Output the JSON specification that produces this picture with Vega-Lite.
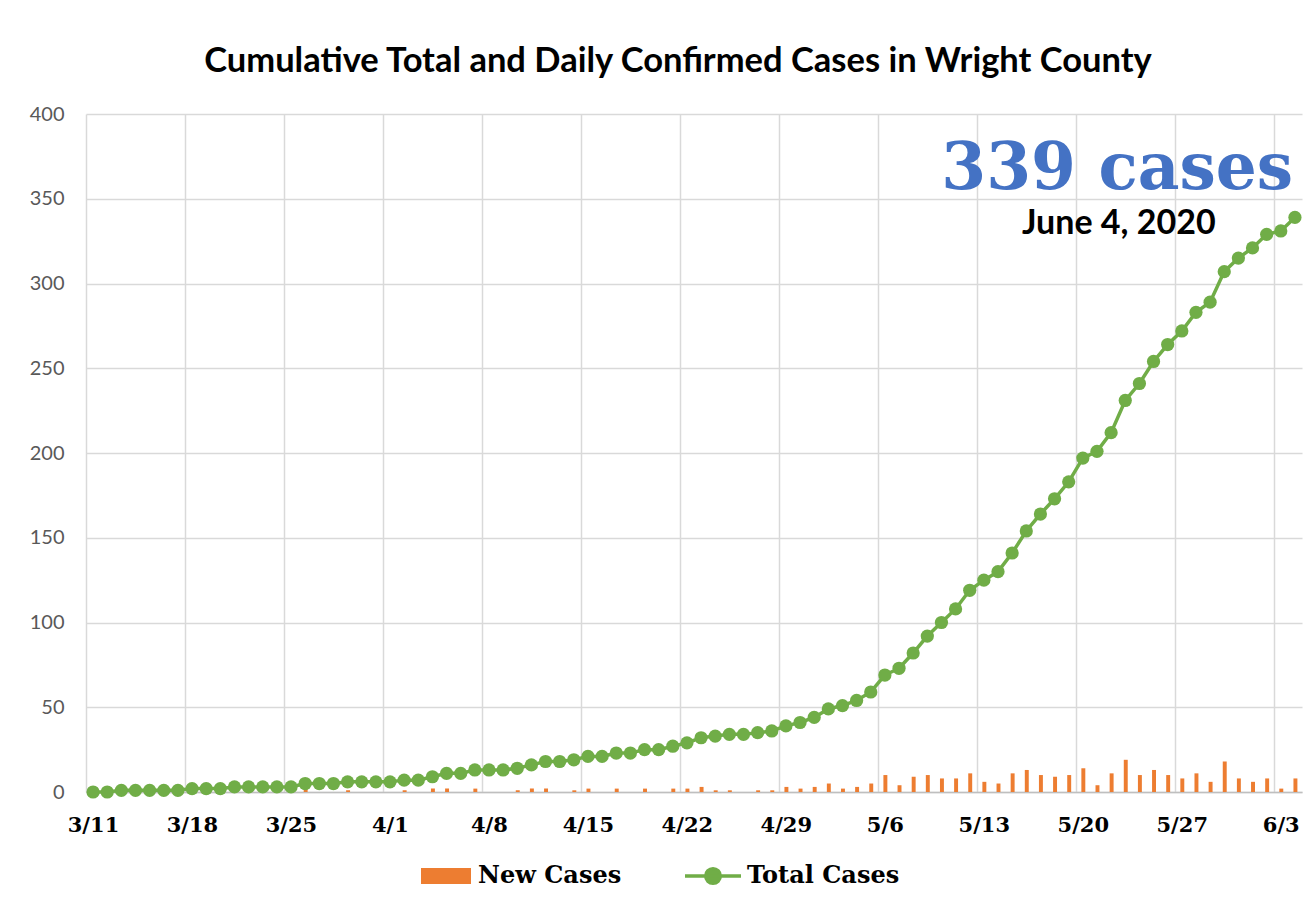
{
  "$schema": "https://vega.github.io/schema/vega-lite/v6.json",
  "width": 1216,
  "height": 678,
  "autosize": "none",
  "padding": {"left": 86, "top": 114, "right": 6, "bottom": 106},
  "background": "white",
  "title": {
    "text": "Cumulative Total and Daily Confirmed Cases in Wright County",
    "font": "Lato", "fontSize": 34.5, "fontWeight": "bold", "color": "black",
    "anchor": "middle", "frame": "group", "dx": -16, "offset": 25
  },
  "config": {
    "view": {"stroke": null}
  },
  "data": {"values": [
    {"date": "2020-03-11", "total": 0, "new": 0},
    {"date": "2020-03-12", "total": 0, "new": 0},
    {"date": "2020-03-13", "total": 1, "new": 1},
    {"date": "2020-03-14", "total": 1, "new": 0},
    {"date": "2020-03-15", "total": 1, "new": 0},
    {"date": "2020-03-16", "total": 1, "new": 0},
    {"date": "2020-03-17", "total": 1, "new": 0},
    {"date": "2020-03-18", "total": 2, "new": 1},
    {"date": "2020-03-19", "total": 2, "new": 0},
    {"date": "2020-03-20", "total": 2, "new": 0},
    {"date": "2020-03-21", "total": 3, "new": 1},
    {"date": "2020-03-22", "total": 3, "new": 0},
    {"date": "2020-03-23", "total": 3, "new": 0},
    {"date": "2020-03-24", "total": 3, "new": 0},
    {"date": "2020-03-25", "total": 3, "new": 0},
    {"date": "2020-03-26", "total": 5, "new": 2},
    {"date": "2020-03-27", "total": 5, "new": 0},
    {"date": "2020-03-28", "total": 5, "new": 0},
    {"date": "2020-03-29", "total": 6, "new": 1},
    {"date": "2020-03-30", "total": 6, "new": 0},
    {"date": "2020-03-31", "total": 6, "new": 0},
    {"date": "2020-04-01", "total": 6, "new": 0},
    {"date": "2020-04-02", "total": 7, "new": 1},
    {"date": "2020-04-03", "total": 7, "new": 0},
    {"date": "2020-04-04", "total": 9, "new": 2},
    {"date": "2020-04-05", "total": 11, "new": 2},
    {"date": "2020-04-06", "total": 11, "new": 0},
    {"date": "2020-04-07", "total": 13, "new": 2},
    {"date": "2020-04-08", "total": 13, "new": 0},
    {"date": "2020-04-09", "total": 13, "new": 0},
    {"date": "2020-04-10", "total": 14, "new": 1},
    {"date": "2020-04-11", "total": 16, "new": 2},
    {"date": "2020-04-12", "total": 18, "new": 2},
    {"date": "2020-04-13", "total": 18, "new": 0},
    {"date": "2020-04-14", "total": 19, "new": 1},
    {"date": "2020-04-15", "total": 21, "new": 2},
    {"date": "2020-04-16", "total": 21, "new": 0},
    {"date": "2020-04-17", "total": 23, "new": 2},
    {"date": "2020-04-18", "total": 23, "new": 0},
    {"date": "2020-04-19", "total": 25, "new": 2},
    {"date": "2020-04-20", "total": 25, "new": 0},
    {"date": "2020-04-21", "total": 27, "new": 2},
    {"date": "2020-04-22", "total": 29, "new": 2},
    {"date": "2020-04-23", "total": 32, "new": 3},
    {"date": "2020-04-24", "total": 33, "new": 1},
    {"date": "2020-04-25", "total": 34, "new": 1},
    {"date": "2020-04-26", "total": 34, "new": 0},
    {"date": "2020-04-27", "total": 35, "new": 1},
    {"date": "2020-04-28", "total": 36, "new": 1},
    {"date": "2020-04-29", "total": 39, "new": 3},
    {"date": "2020-04-30", "total": 41, "new": 2},
    {"date": "2020-05-01", "total": 44, "new": 3},
    {"date": "2020-05-02", "total": 49, "new": 5},
    {"date": "2020-05-03", "total": 51, "new": 2},
    {"date": "2020-05-04", "total": 54, "new": 3},
    {"date": "2020-05-05", "total": 59, "new": 5},
    {"date": "2020-05-06", "total": 69, "new": 10},
    {"date": "2020-05-07", "total": 73, "new": 4},
    {"date": "2020-05-08", "total": 82, "new": 9},
    {"date": "2020-05-09", "total": 92, "new": 10},
    {"date": "2020-05-10", "total": 100, "new": 8},
    {"date": "2020-05-11", "total": 108, "new": 8},
    {"date": "2020-05-12", "total": 119, "new": 11},
    {"date": "2020-05-13", "total": 125, "new": 6},
    {"date": "2020-05-14", "total": 130, "new": 5},
    {"date": "2020-05-15", "total": 141, "new": 11},
    {"date": "2020-05-16", "total": 154, "new": 13},
    {"date": "2020-05-17", "total": 164, "new": 10},
    {"date": "2020-05-18", "total": 173, "new": 9},
    {"date": "2020-05-19", "total": 183, "new": 10},
    {"date": "2020-05-20", "total": 197, "new": 14},
    {"date": "2020-05-21", "total": 201, "new": 4},
    {"date": "2020-05-22", "total": 212, "new": 11},
    {"date": "2020-05-23", "total": 231, "new": 19},
    {"date": "2020-05-24", "total": 241, "new": 10},
    {"date": "2020-05-25", "total": 254, "new": 13},
    {"date": "2020-05-26", "total": 264, "new": 10},
    {"date": "2020-05-27", "total": 272, "new": 8},
    {"date": "2020-05-28", "total": 283, "new": 11},
    {"date": "2020-05-29", "total": 289, "new": 6},
    {"date": "2020-05-30", "total": 307, "new": 18},
    {"date": "2020-05-31", "total": 315, "new": 8},
    {"date": "2020-06-01", "total": 321, "new": 6},
    {"date": "2020-06-02", "total": 329, "new": 8},
    {"date": "2020-06-03", "total": 331, "new": 2},
    {"date": "2020-06-04", "total": 339, "new": 8}
  ]},
  "layer": [
    {
      "mark": {"type": "bar", "width": {"band": 0.35}},
      "encoding": {
        "x": {
          "field": "date", "timeUnit": "utcyearmonthdate", "type": "temporal",
          "scale": {"domain": [
            {"year": 2020, "month": 3, "date": 11, "utc": true},
            {"year": 2020, "month": 6, "date": 5, "utc": true}
          ]},
          "axis": {
            "title": null,
            "values": [
              {"year": 2020, "month": 3, "date": 11, "utc": true},
              {"year": 2020, "month": 3, "date": 18, "utc": true},
              {"year": 2020, "month": 3, "date": 25, "utc": true},
              {"year": 2020, "month": 4, "date": 1, "utc": true},
              {"year": 2020, "month": 4, "date": 8, "utc": true},
              {"year": 2020, "month": 4, "date": 15, "utc": true},
              {"year": 2020, "month": 4, "date": 22, "utc": true},
              {"year": 2020, "month": 4, "date": 29, "utc": true},
              {"year": 2020, "month": 5, "date": 6, "utc": true},
              {"year": 2020, "month": 5, "date": 13, "utc": true},
              {"year": 2020, "month": 5, "date": 20, "utc": true},
              {"year": 2020, "month": 5, "date": 27, "utc": true},
              {"year": 2020, "month": 6, "date": 3, "utc": true}
            ],
            "format": "%-m/%-d",
            "grid": true, "gridColor": "#D9D9D9", "gridWidth": 1.5,
            "domain": true, "domainColor": "#BFBFBF", "domainWidth": 1.5,
            "ticks": false, "tickSize": 0,
            "labelOffset": 7, "labelPadding": 22,
            "labelFont": "DejaVu Serif", "labelFontWeight": "bold", "labelFontSize": 21,
            "labelColor": "black", "labelOverlap": false, "labelFlush": false
          }
        },
        "y": {
          "field": "new", "type": "quantitative",
          "scale": {"domain": [0, 400], "nice": false},
          "axis": {
            "title": null,
            "values": [0, 50, 100, 150, 200, 250, 300, 350, 400],
            "grid": true, "gridColor": "#D9D9D9", "gridWidth": 1.5,
            "domain": false, "ticks": false, "tickSize": 0,
            "labelPadding": 22,
            "labelFont": "Lato", "labelFontSize": 20, "labelColor": "#595959"
          }
        },
        "fill": {
          "datum": "New Cases", "type": "nominal",
          "scale": {"domain": ["New Cases"], "range": ["#ED7D31"]},
          "legend": {
            "title": null, "orient": "none", "direction": "horizontal",
            "legendX": 335, "legendY": 737,
            "symbolType": "M-1,-0.32H1V0.32H-1Z", "symbolSize": 2500,
            "symbolStrokeWidth": 0,
            "labelFont": "DejaVu Serif", "labelFontWeight": "bold", "labelFontSize": 24,
            "labelColor": "black", "labelOffset": 7
          }
        }
      }
    },
    {
      "mark": {"type": "line", "strokeWidth": 3.5},
      "encoding": {
        "x": {"field": "date", "timeUnit": "utcyearmonthdate", "type": "temporal", "bandPosition": 0.5},
        "y": {"field": "total", "type": "quantitative"},
        "stroke": {
          "datum": "Total Cases", "type": "nominal",
          "scale": {"domain": ["Total Cases"], "range": ["#70AD47"]},
          "legend": {
            "title": null, "orient": "none", "direction": "horizontal",
            "legendX": 597, "legendY": 732,
            "symbolType": "M-1,0L1,0M0.26,0A0.26,0.26,0,1,1,-0.26,0A0.26,0.26,0,1,1,0.26,0Z",
            "symbolSize": 3136, "symbolStrokeWidth": 3.5, "symbolFillColor": "#70AD47",
            "labelFont": "DejaVu Serif", "labelFontWeight": "bold", "labelFontSize": 24,
            "labelColor": "black", "labelOffset": 4
          }
        }
      }
    },
    {
      "mark": {"type": "point", "filled": true, "size": 175, "opacity": 1, "color": "#70AD47"},
      "encoding": {
        "x": {"field": "date", "timeUnit": "utcyearmonthdate", "type": "temporal", "bandPosition": 0.5},
        "y": {"field": "total", "type": "quantitative"}
      }
    },
    {
      "data": {"values": [{"label": "339 cases"}]},
      "mark": {"type": "text", "font": "DejaVu Serif", "fontWeight": "bold",
               "fontSize": 64.5, "color": "#4472C4", "align": "right", "baseline": "alphabetic"},
      "encoding": {
        "text": {"field": "label"},
        "x": {"datum": {"year": 2020, "month": 6, "date": 4, "hours": 9, "utc": true}, "type": "temporal"},
        "y": {"datum": 355.5, "type": "quantitative"}
      }
    },
    {
      "data": {"values": [{"label": "June 4, 2020"}]},
      "mark": {"type": "text", "font": "Lato", "fontWeight": "bold",
               "fontSize": 34, "color": "black", "align": "center", "baseline": "alphabetic"},
      "encoding": {
        "text": {"field": "label"},
        "x": {"datum": {"year": 2020, "month": 5, "date": 23, "hours": 1, "utc": true}, "type": "temporal"},
        "y": {"datum": 329, "type": "quantitative"}
      }
    }
  ],
  "resolve": {"legend": {"fill": "independent", "stroke": "independent"}}
}
